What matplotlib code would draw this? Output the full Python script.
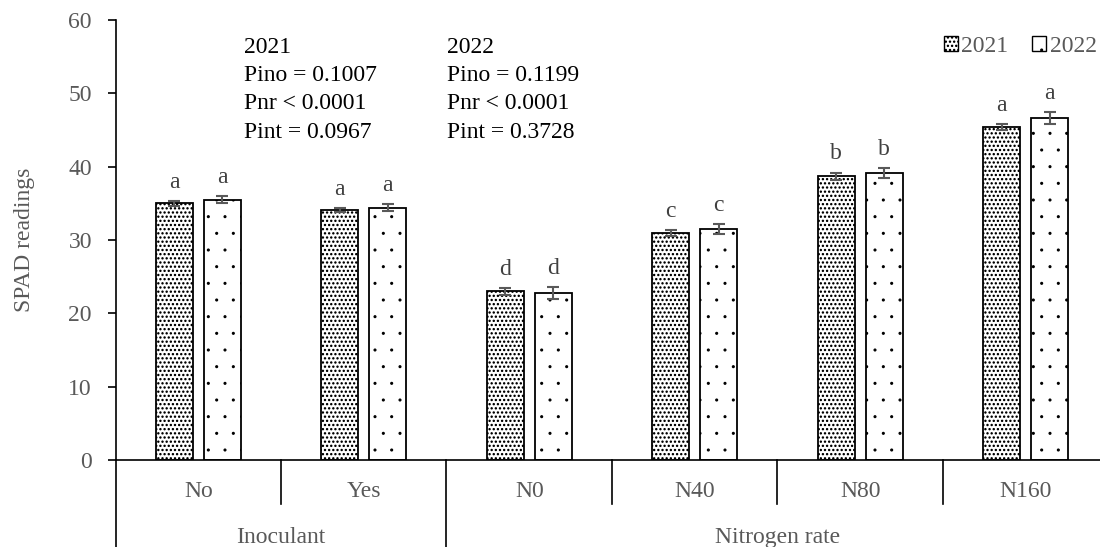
import numpy as np
import matplotlib
matplotlib.use("Agg")
import matplotlib.pyplot as plt
import matplotlib.hatch as mhatch
from matplotlib.patches import Patch

plt.rcParams['font.family'] = ['Liberation Serif', 'DejaVu Serif']
plt.rcParams['hatch.linewidth'] = 0.9


# filled-dot hatch: dense pattern gets bigger dots, sparse one small dots
class Dots(mhatch.Circles):
    filled = True

    def __init__(self, hatch, density):
        n = hatch.count('.')
        self.num_rows = n * density
        self.size = 0.14 if n >= 4 else 0.055
        super().__init__(hatch, density)


mhatch._hatch_types = [Dots if t is mhatch.SmallFilledCircles else t
                       for t in mhatch._hatch_types]

# data
categories = ["No", "Yes", "N0", "N40", "N80", "N160"]
groups = ["Inoculant", "Nitrogen rate"]
group_sizes = [2, 4]
years = ["2021", "2022"]
spad_2021 = [35.0, 34.1, 23.0, 31.0, 38.7, 45.4]
spad_2022 = [35.5, 34.4, 22.8, 31.5, 39.1, 46.6]
err_2021 = [0.3, 0.3, 0.5, 0.4, 0.5, 0.4]
err_2022 = [0.5, 0.5, 0.8, 0.7, 0.7, 0.8]
letters_2021 = ["a", "a", "d", "c", "b", "a"]
letters_2022 = ["a", "a", "d", "c", "b", "a"]
stats_2021 = ["2021", "Pino = 0.1007", "Pnr < 0.0001", "Pint = 0.0967"]
stats_2022 = ["2022", "Pino = 0.1199", "Pnr < 0.0001", "Pint = 0.3728"]

gray = "#595959"
fs = 17

fig = plt.figure(figsize=(11, 5.47), dpi=100)
ax = fig.add_axes([0.105, 0.159, 0.9027, 0.8044])

x = np.arange(len(categories))
w = 0.224
off = 0.145
hatches = ["....", "."]
for vals, errs, lets, sign, h in [(spad_2021, err_2021, letters_2021, -1, hatches[0]),
                                  (spad_2022, err_2022, letters_2022, 1, hatches[1])]:
    xs = x + sign * off
    ax.bar(xs, vals, width=w, color="white", edgecolor="black", hatch=h, linewidth=1.3, zorder=2)
    ax.errorbar(xs, vals, yerr=errs, fmt="none", ecolor=gray, elinewidth=1.5,
                capsize=4.5, capthick=1.5, zorder=3)
    for xi, v, e, l in zip(xs, vals, errs, lets):
        ax.text(xi, v + e + 1.1, l, ha="center", va="bottom", fontsize=fs, color="#404040")

ax.set_xlim(-0.5, len(categories) - 0.5)
ax.set_ylim(0, 60)
ax.set_yticks(np.arange(0, 61, 10))
ax.tick_params(axis="y", labelsize=fs, labelcolor=gray, length=6, width=1.2, direction="out", pad=11)
ax.tick_params(axis="x", length=0, labelbottom=False)
ax.set_ylabel("SPAD readings", fontsize=fs, color=gray, labelpad=24)
for s in ["top", "right"]:
    ax.spines[s].set_visible(False)
ax.spines["left"].set_linewidth(1.2)
ax.spines["bottom"].set_linewidth(1.2)

trans = ax.get_xaxis_transform()
for xi, c in zip(x, categories):
    ax.text(xi, -0.072, c, ha="center", va="center", transform=trans, fontsize=fs, color=gray)

# separators under the axis
edges = np.cumsum(group_sizes) - 0.5
starts = np.concatenate([[-0.5], edges[:-1]])
ax.plot([-0.5, -0.5], [0, -0.198], transform=trans, color="black", lw=1.2, clip_on=False)
for b in x[:-1] + 0.5:
    if b in edges:
        ax.plot([b, b], [0, -0.198], transform=trans, color="black", lw=1.2, clip_on=False)
    else:
        ax.plot([b, b], [0, -0.1], transform=trans, color="black", lw=1.2, clip_on=False)
for g, s0, e0 in zip(groups, starts, edges):
    ax.text((s0 + e0) / 2, -0.177, g, ha="center", va="center", transform=trans,
            fontsize=fs, color=gray)

# stats text
for xpos, lines in [(244, stats_2021), (447, stats_2022)]:
    for i, t in enumerate(lines):
        fig.text(xpos / 1100, 1 - (48 + i * 28) / 547, t, ha="left", va="center",
                 fontsize=fs, color="black")

handles = [Patch(facecolor="white", edgecolor="black", hatch=h, label=y)
           for h, y in zip(hatches, years)]
fig.legend(handles=handles, loc="upper right", bbox_to_anchor=(1.012, 0.965), ncol=2,
           frameon=False, fontsize=fs, handlelength=0.6, handleheight=0.6,
           handletextpad=0.15, columnspacing=1.0, labelcolor=gray, borderpad=0.2)

fig.savefig("out.png", dpi=100)
